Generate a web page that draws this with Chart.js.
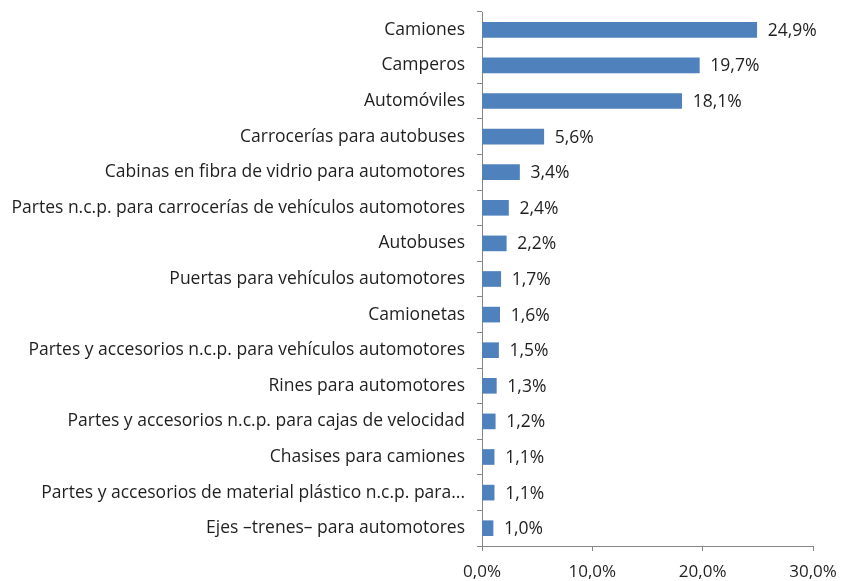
<!DOCTYPE html>
<html>
<head>
<meta charset="utf-8">
<script src="https://cdn.jsdelivr.net/npm/chart.js@4/dist/chart.umd.min.js"></script>
<style>
  html, body { margin: 0; padding: 0; background: #fff; }
  #wrap { width: 841px; height: 581px; }
</style>
</head>
<body>
<div id="wrap"><canvas id="chart" width="841" height="581"></canvas></div>
<script>
const categories = [
  'Camiones',
  'Camperos',
  'Automóviles',
  'Carrocerías para autobuses',
  'Cabinas en fibra de vidrio para automotores',
  'Partes n.c.p. para carrocerías de vehículos automotores',
  'Autobuses',
  'Puertas para vehículos automotores',
  'Camionetas',
  'Partes y accesorios n.c.p. para vehículos automotores',
  'Rines para automotores',
  'Partes y accesorios n.c.p. para cajas de velocidad',
  'Chasises para camiones',
  'Partes y accesorios de material plástico n.c.p. para...',
  'Ejes –trenes– para automotores'
];
const shares = [24.9, 19.7, 18.1, 5.6, 3.4, 2.4, 2.2, 1.7, 1.6, 1.5, 1.3, 1.2, 1.1, 1.1, 1.0];
const xTicks = [0, 10, 20, 30];

const fontFamily = "'Open Sans', 'Noto Sans', sans-serif";
const pct = v => v.toFixed(1).replace('.', ',') + '%';

// etiquetas de valor al final de las barras
const valueLabels = {
  id: 'valueLabels',
  afterDatasetsDraw(chart) {
    const ctx = chart.ctx;
    const meta = chart.getDatasetMeta(0);
    ctx.save();
    ctx.font = '17.5px ' + fontFamily;
    ctx.fillStyle = '#1f1f1f';
    ctx.textAlign = 'left';
    ctx.textBaseline = 'middle';
    meta.data.forEach((bar, i) => {
      ctx.fillText(pct(shares[i]), bar.x + 11, bar.y + 1);
    });
    ctx.restore();
  }
};

new Chart(document.getElementById('chart').getContext('2d'), {
  type: 'bar',
  data: {
    labels: categories,
    datasets: [{
      data: shares,
      backgroundColor: '#4F81BD',
      borderWidth: 0,
      barThickness: 15
    }]
  },
  options: {
    indexAxis: 'y',
    responsive: false,
    animation: false,
    layout: { padding: { top: 12, right: 28, left: 0, bottom: 0 } },
    plugins: {
      legend: { display: false },
      tooltip: { enabled: false }
    },
    scales: {
      x: {
        min: 0,
        max: 30,
        afterBuildTicks: scale => { scale.ticks = xTicks.map(v => ({ value: v })); },
        afterFit: scale => {
          scale.height = 35;
          scale.paddingLeft = 0;
          scale.paddingRight = 0;
        },
        border: { display: true, color: '#868686', width: 1 },
        grid: { drawOnChartArea: false, drawTicks: true, tickLength: 5, color: '#868686' },
        ticks: {
          padding: 11,
          color: '#1f1f1f',
          font: { family: fontFamily, size: 17 },
          callback: v => pct(v)
        }
      },
      y: {
        afterFit: scale => {
          scale.width = 482;
          scale.paddingTop = 0;
          scale.paddingBottom = 0;
        },
        border: { display: true, color: '#868686', width: 1 },
        grid: { drawOnChartArea: false, drawTicks: true, tickLength: 5, color: '#868686', offset: true },
        ticks: {
          padding: 12,
          color: '#1f1f1f',
          autoSkip: false,
          font: { family: fontFamily, size: 17.5 }
        }
      }
    }
  },
  plugins: [valueLabels]
});
</script>
</body>
</html>
